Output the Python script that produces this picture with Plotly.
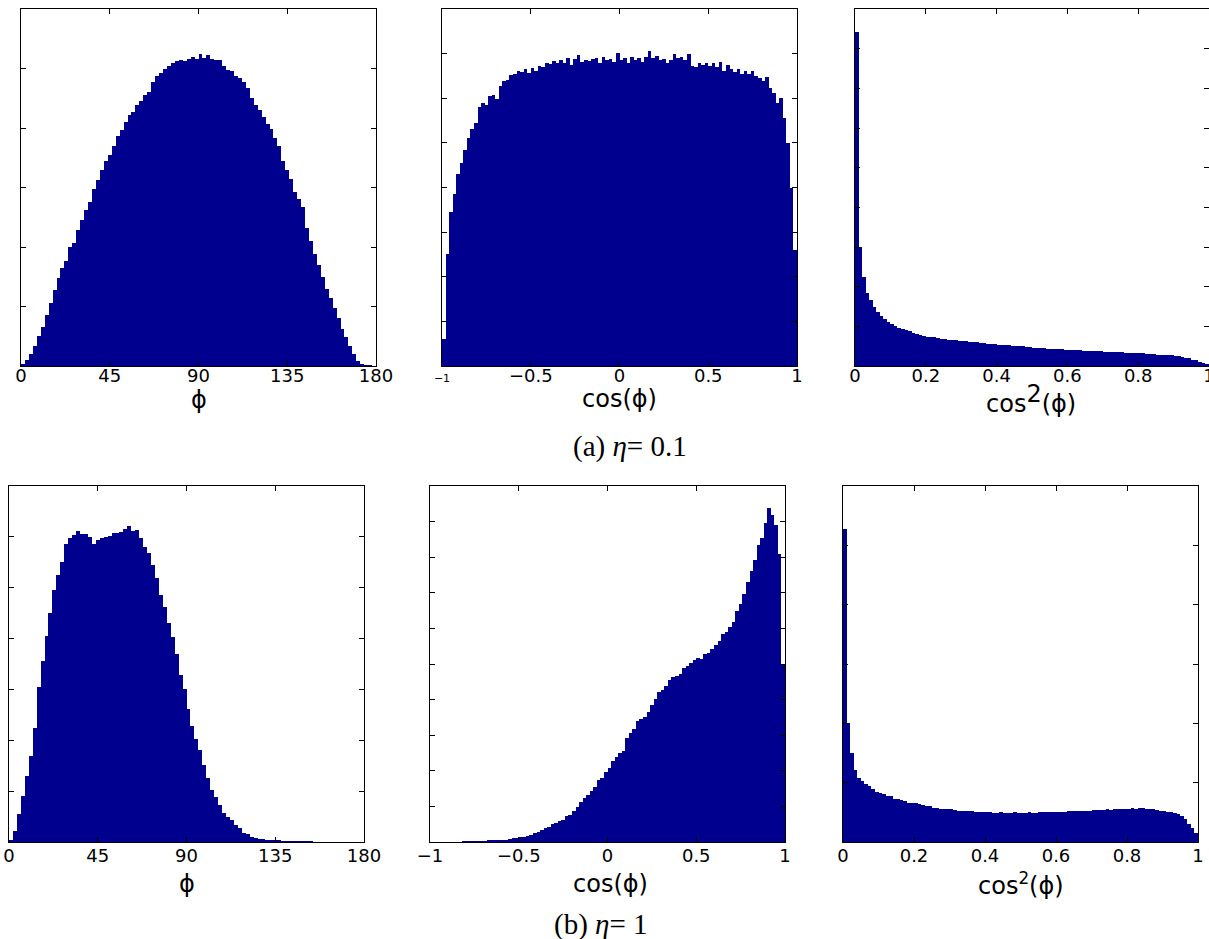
import plotly.graph_objects as go

# reference picture size (the page body margin is removed below)
W, H = 1209, 939

# ---- data (bin heights, arbitrary units = y tick spacing) ----
# (a) eta = 0.1
phi_a = [0.03, 0.10, 0.20, 0.33, 0.50, 0.66, 0.85, 1.06, 1.28, 1.48,
         1.64, 1.76, 2.00, 2.07, 2.28, 2.45, 2.63, 2.76, 2.98, 3.12,
         3.30, 3.44, 3.55, 3.70, 3.86, 3.96, 4.10, 4.22, 4.27, 4.38,
         4.45, 4.56, 4.60, 4.77, 4.88, 4.93, 4.99, 5.04, 5.10, 5.13,
         5.14, 5.12, 5.16, 5.19, 5.16, 5.25, 5.18, 5.22, 5.16, 5.14,
         5.15, 5.05, 4.98, 4.95, 4.88, 4.84, 4.77, 4.68, 4.50, 4.38,
         4.30, 4.18, 4.06, 3.99, 3.84, 3.70, 3.45, 3.30, 3.15, 2.92,
         2.81, 2.68, 2.32, 2.10, 1.88, 1.70, 1.50, 1.30, 1.14, 0.98,
         0.80, 0.62, 0.48, 0.34, 0.20, 0.09, 0.03, 0.01, 0.01, 0.0]

cos_a = [0.60, 2.50, 3.45, 3.85, 4.30, 4.55, 4.85, 5.12, 5.30, 5.45,
         5.80, 5.90, 5.85, 6.05, 6.08, 5.98, 6.28, 6.38, 6.42, 6.52,
         6.55, 6.62, 6.58, 6.66, 6.57, 6.68, 6.62, 6.72, 6.70, 6.80,
         6.76, 6.84, 6.80, 6.85, 6.78, 6.90, 6.75, 6.88, 6.97, 6.82,
         6.86, 6.84, 6.88, 6.90, 6.78, 6.92, 6.85, 6.88, 6.82, 7.02,
         6.85, 6.90, 6.80, 6.93, 6.86, 6.90, 6.82, 6.92, 7.05, 6.90,
         6.95, 6.85, 6.88, 6.80, 6.86, 7.00, 6.90, 6.93, 6.86, 7.00,
         6.72, 6.70, 6.78, 6.74, 6.80, 6.72, 6.78, 6.70, 6.82, 6.60,
         6.74, 6.65, 6.58, 6.65, 6.55, 6.62, 6.55, 6.62, 6.50, 6.46,
         6.38, 6.48, 6.22, 6.12, 5.90, 6.00, 5.55, 5.00, 4.00, 2.60]

cos2_a = [8.42, 3.00, 2.25, 1.85, 1.66, 1.48, 1.36, 1.26, 1.18, 1.11,
          1.05, 1.01, 0.97, 0.93, 0.90, 0.87, 0.84, 0.81, 0.79, 0.76,
          0.74, 0.73, 0.72, 0.71, 0.68, 0.67, 0.66, 0.66, 0.65, 0.64,
          0.63, 0.62, 0.61, 0.61, 0.60, 0.59, 0.57, 0.56, 0.55, 0.55,
          0.54, 0.53, 0.52, 0.52, 0.51, 0.51, 0.50, 0.50, 0.49, 0.47,
          0.46, 0.46, 0.45, 0.45, 0.44, 0.44, 0.43, 0.43, 0.42, 0.41,
          0.41, 0.40, 0.40, 0.40, 0.39, 0.39, 0.38, 0.38, 0.37, 0.37,
          0.36, 0.36, 0.36, 0.35, 0.35, 0.35, 0.34, 0.34, 0.33, 0.33,
          0.32, 0.32, 0.31, 0.31, 0.30, 0.29, 0.29, 0.28, 0.27, 0.27,
          0.26, 0.24, 0.23, 0.21, 0.19, 0.16, 0.14, 0.11, 0.08, 0.04]

# (b) eta = 1
phi_b = [0.04, 0.22, 0.55, 0.90, 1.30, 1.70, 2.25, 3.05, 3.55, 4.05,
         4.50, 4.95, 5.25, 5.50, 5.85, 5.97, 6.03, 6.12, 6.06, 6.05,
         6.00, 5.86, 5.93, 5.97, 6.00, 6.02, 6.08, 6.07, 6.09, 6.15,
         6.22, 6.12, 6.13, 5.98, 5.80, 5.69, 5.45, 5.20, 4.85, 4.62,
         4.30, 4.03, 3.70, 3.28, 3.00, 2.62, 2.28, 2.02, 1.80, 1.52,
         1.25, 1.02, 0.88, 0.72, 0.58, 0.50, 0.43, 0.34, 0.27, 0.18,
         0.15, 0.10, 0.08, 0.06, 0.05, 0.04, 0.03, 0.03, 0.02, 0.015,
         0.01, 0.01, 0.01, 0.01, 0.005, 0.005, 0.005, 0.0, 0.0, 0.0,
         0.0, 0.0, 0.0, 0.0, 0.0, 0.0, 0.0, 0.0, 0.0, 0.0]

cos_b = [0.0, 0.0, 0.0, 0.0, 0.0, 0.0, 0.0, 0.0, 0.0, 0.005,
         0.01, 0.01, 0.015, 0.02, 0.02, 0.02, 0.03, 0.04, 0.05, 0.05,
         0.06, 0.07, 0.08, 0.10, 0.12, 0.13, 0.15, 0.18, 0.21, 0.26,
         0.29, 0.33, 0.38, 0.42, 0.50, 0.54, 0.58, 0.62, 0.72, 0.77,
         0.86, 0.98, 1.12, 1.23, 1.33, 1.42, 1.55, 1.73, 1.80, 1.98,
         2.07, 2.28, 2.40, 2.51, 2.55, 2.92, 3.06, 3.18, 3.40, 3.45,
         3.52, 3.65, 3.84, 4.02, 4.22, 4.28, 4.38, 4.55, 4.63, 4.67,
         4.72, 4.88, 4.94, 5.04, 5.10, 5.16, 5.14, 5.28, 5.32, 5.42,
         5.53, 5.66, 5.84, 5.90, 6.05, 6.18, 6.50, 6.68, 6.96, 7.30,
         7.62, 7.92, 8.35, 8.55, 8.95, 9.39, 9.18, 8.90, 8.10, 5.00]

cos2_b = [5.28, 2.00, 1.50, 1.22, 1.08, 1.02, 0.97, 0.94, 0.89, 0.85,
          0.82, 0.81, 0.78, 0.77, 0.73, 0.72, 0.70, 0.69, 0.66, 0.65,
          0.65, 0.64, 0.62, 0.61, 0.60, 0.58, 0.57, 0.56, 0.56, 0.55,
          0.55, 0.54, 0.53, 0.53, 0.53, 0.52, 0.52, 0.51, 0.51, 0.50,
          0.50, 0.50, 0.49, 0.49, 0.50, 0.49, 0.49, 0.49, 0.50, 0.49,
          0.49, 0.49, 0.50, 0.49, 0.49, 0.50, 0.50, 0.51, 0.50, 0.51,
          0.51, 0.51, 0.51, 0.52, 0.52, 0.52, 0.53, 0.52, 0.53, 0.53,
          0.54, 0.54, 0.54, 0.54, 0.55, 0.54, 0.55, 0.55, 0.56, 0.56,
          0.56, 0.57, 0.56, 0.57, 0.57, 0.56, 0.56, 0.55, 0.54, 0.53,
          0.52, 0.51, 0.50, 0.49, 0.47, 0.43, 0.38, 0.31, 0.24, 0.15]

# tick labels
phi_ticks = [0, 45, 90, 135, 180]
phi_labels = ["0", "45", "90", "135", "180"]
cos_ticks = [-1, -0.5, 0, 0.5, 1]
cos_labels_a = ["<span style='font-size:11px'>\u22121</span>", "\u22120.5", "0", "0.5", "1"]
cos_labels_b = ["\u22121", "\u22120.5", "0", "0.5", "1"]
cos2_ticks = [0, 0.2, 0.4, 0.6, 0.8, 1]
cos2_labels = ["0", "0.2", "0.4", "0.6", "0.8", "1"]

BAR = "#00008F"
TICKFONT = dict(family="DejaVu Sans", size=18, color="black")
TITLEFONT = dict(family="DejaVu Sans", size=24, color="black")


def px(x):
    return x / W


def py(y):
    return 1 - y / H


# panels: (values, x0, dx, xrange, ticks, labels, ymax, px box [l, r, t, b], title, title_xy, standoff)
panels = [
    (phi_a, 0, 2, [0, 180], phi_ticks, phi_labels, 6, [21, 376, 9, 366],
     "\u03d5", (198.5, 400), -7),
    (cos_a, -1, 0.02, [-1, 1], cos_ticks, cos_labels_a, 8, [442, 797, 9, 366],
     "cos(\u03d5)", (619.5, 399), -7),
    (cos2_a, 0, 0.01, [0, 1], cos2_ticks, cos2_labels, 9, [855, 1209, 9, 366],
     "cos<sup><span style='font-size:24px'>2</span></sup>(\u03d5)", (1031, 399), -7),
    (phi_b, 0, 2, [0, 180], phi_ticks, phi_labels, 7, [9, 364, 486, 842],
     "\u03d5", (186.5, 884), -3),
    (cos_b, -1, 0.02, [-1, 1], cos_ticks, cos_labels_b, 10, [430, 785, 486, 842],
     "cos(\u03d5)", (610, 884), -3),
    (cos2_b, 0, 0.01, [0, 1], cos2_ticks, cos2_labels, 6, [843, 1198, 486, 842],
     "cos<sup>2</sup>(\u03d5)", (1020.5, 884), -3),
]

fig = go.Figure()
annotations = []
for k, (vals, x0, dx, xr, tv, tt, ymax, box, title, txy, so) in enumerate(panels):
    n = "" if k == 0 else str(k + 1)
    fig.add_trace(go.Bar(
        y=vals, x0=x0 + dx / 2, dx=dx, width=dx,
        marker=dict(color=BAR, line=dict(width=0)),
        xaxis="x" + n, yaxis="y" + n, showlegend=False, hoverinfo="skip"))
    l, r, t, b = box
    fig.layout["xaxis" + n] = dict(
        domain=[max(px(l), 0.0), min(px(r), 1.0)], anchor="y" + n, range=xr,
        tickmode="array", tickvals=tv, ticktext=tt, ticks="inside",
        ticklen=5, tickcolor="black", tickwidth=1, automargin=False,
        showline=True, linecolor="black", linewidth=1, mirror="ticks",
        showgrid=False, zeroline=False, tickfont=TICKFONT,
        ticklabelstandoff=so, ticklabeloverflow="allow")
    fig.layout["yaxis" + n] = dict(
        domain=[py(b), py(t)], anchor="x" + n, range=[0, ymax],
        tickmode="linear", tick0=0, dtick=1, ticks="inside", ticklen=5,
        tickcolor="black", tickwidth=1, showticklabels=False, automargin=False,
        showline=True, linecolor="black", linewidth=1, mirror="ticks",
        showgrid=False, zeroline=False)
    annotations.append(dict(
        text=title, xref="paper", yref="paper", x=px(txy[0]), y=py(txy[1]),
        xanchor="center", yanchor="middle", showarrow=False, font=TITLEFONT))

CAPFONT = dict(family="Liberation Serif", size=29, color="black")
annotations.append(dict(text="(a) <i>\u03b7</i>= 0.1", xref="paper", yref="paper",
                        x=px(630), y=py(446), xanchor="center", yanchor="middle",
                        showarrow=False, font=CAPFONT))
annotations.append(dict(text="(b) <i>\u03b7</i>= 1", xref="paper", yref="paper",
                        x=px(601), y=py(924), xanchor="center", yanchor="middle",
                        showarrow=False, font=CAPFONT))

fig.update_layout(
    width=W, height=H, autosize=False, margin=dict(l=0, r=0, t=0, b=0, pad=0),
    paper_bgcolor="white", plot_bgcolor="white",
    bargap=0, barmode="overlay", annotations=annotations, showlegend=False)

fig.write_html("out.html", config={"displayModeBar": False, "responsive": False},
               post_script="document.body.style.margin='0';document.body.style.overflow='hidden';")
